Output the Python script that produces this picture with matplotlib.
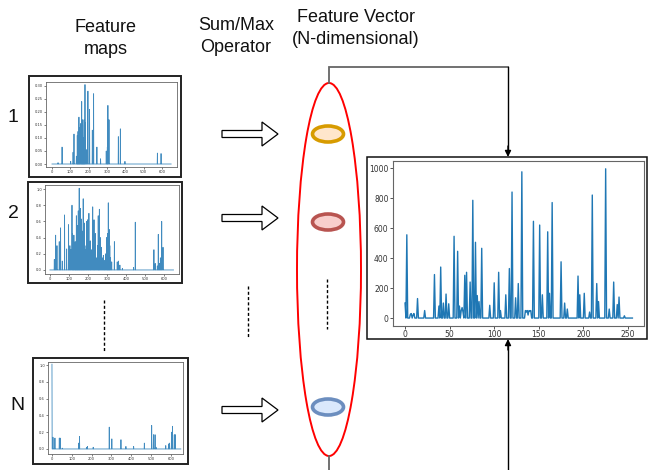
import numpy as np
import matplotlib
matplotlib.use("Agg")
import matplotlib.pyplot as plt
from matplotlib.patches import Rectangle, Ellipse, Polygon

W, H = 649, 470

# ---------------- data ----------------
# Feature map 1 (spike positions / heights), length 651
m1_idx = [33, 55, 102, 115, 120, 133, 138, 140, 142, 145, 147, 150, 152, 156, 158, 160, 162, 165, 167, 169,
          171, 173, 175, 178, 180, 182, 187, 196, 205, 220, 227, 245, 265, 296, 302, 305, 311, 362, 373, 398,
          575, 595]
m1_val = [0.005, 0.065, 0.01, 0.045, 0.115, 0.03, 0.11, 0.06, 0.125, 0.10, 0.18, 0.08, 0.14, 0.155, 0.12,
          0.10, 0.24, 0.17, 0.15, 0.06, 0.09, 0.10, 0.17, 0.14, 0.305, 0.16, 0.055, 0.28, 0.21, 0.13, 0.27,
          0.065, 0.02, 0.05, 0.065, 0.225, 0.17, 0.105, 0.135, 0.01, 0.042, 0.04]

# Feature map 2
m2_idx = [23, 30, 37, 49, 56, 65, 77, 88, 98, 105, 116, 119, 126, 133, 139, 144, 149, 154, 160, 165,
          170, 175, 181, 186, 193, 198, 205, 212, 225, 232, 239, 246, 254, 260, 265, 270, 281, 289, 298, 304,
          307, 312, 319, 339, 354, 361, 368, 381, 440, 449, 547, 554, 565, 570, 577, 581, 588, 595,
          110, 122, 129, 136, 142, 147, 152, 157, 163, 168, 173, 178, 184, 190, 201, 208, 215, 220, 228, 236,
          250, 257, 263, 275, 285, 294, 301, 310, 315, 325]
m2_val = [0.13, 0.43, 0.30, 0.35, 0.52, 0.11, 0.68, 0.26, 0.56, 0.30, 0.80, 0.45, 0.43, 0.35, 0.67, 0.55,
          0.73, 1.01, 0.76, 0.63, 0.48, 0.88, 0.58, 0.20, 0.60, 0.62, 0.70, 0.36, 0.78, 0.62, 0.45, 0.15,
          0.67, 0.75, 0.40, 0.28, 0.18, 0.12, 0.40, 0.45, 0.83, 0.50, 0.15, 0.35, 0.10, 0.11, 0.06, 0.02,
          0.03, 0.59, 0.25, 0.08, 0.05, 0.44, 0.08, 0.15, 0.60, 0.28,
          0.25, 0.30, 0.20, 0.28, 0.40, 0.30, 0.38, 0.50, 0.35, 0.30, 0.40, 0.30, 0.25, 0.30, 0.35, 0.30,
          0.20, 0.25, 0.30, 0.20, 0.30, 0.35, 0.20, 0.15, 0.10, 0.20, 0.30, 0.25, 0.30, 0.10]

# Feature map N
m3_idx = [0, 5, 15, 37, 41, 52, 135, 139, 174, 179, 208, 289, 302, 348, 373, 412, 466, 503, 512, 520,
          525, 574, 588, 593, 603, 608, 617, 622]
m3_val = [1.01, 0.14, 0.13, 0.13, 0.13, 0.01, 0.07, 0.15, 0.02, 0.03, 0.02, 0.26, 0.12, 0.11, 0.03, 0.03,
          0.07, 0.28, 0.17, 0.17, 0.02, 0.04, 0.06, 0.07, 0.20, 0.27, 0.17, 0.17]

# Feature vector (256 dims)
fv_idx = [0, 2, 6, 7, 9, 10, 14, 22, 33, 38, 40, 43, 46, 49, 55, 59, 61, 63, 64, 65, 67, 69, 73, 76, 79,
          81, 83, 86, 95, 100, 105, 107, 113, 117, 120, 124, 127, 131, 135, 136, 137, 138, 139, 140, 141,
          144, 151, 154, 160, 162, 165, 175, 179, 182, 194, 196, 201, 207, 210, 215, 217, 225, 229, 234,
          238, 240, 246]
fv_val = [100, 555, 25, 30, 20, 30, 130, 50, 290, 80, 340, 100, 160, 95, 545, 445, 80, 50, 70, 40, 285,
          305, 240, 785, 505, 150, 110, 465, 85, 235, 305, 50, 155, 330, 840, 135, 230, 975, 50, 40, 50,
          20, 50, 45, 50, 645, 620, 155, 575, 165, 770, 375, 100, 60, 280, 155, 165, 40, 820, 230, 110,
          995, 60, 240, 90, 140, 15]

map_len = 651
fv_len = 256

m1_ticks_y = [0.00, 0.05, 0.10, 0.15, 0.20, 0.25, 0.30]
m_ticks_y = [0.0, 0.2, 0.4, 0.6, 0.8, 1.0]
m_ticks_x = [0, 100, 200, 300, 400, 500, 600]
fv_ticks_x = [0, 50, 100, 150, 200, 250]
fv_ticks_y = [0, 200, 400, 600, 800, 1000]


def series(n, idx, val):
    s = np.zeros(n)
    s[np.array(idx)] = np.array(val)
    return s


m1 = series(map_len, m1_idx, m1_val)
m2 = series(map_len, m2_idx, m2_val)
m3 = series(map_len, m3_idx, m3_val)
fv = series(fv_len, fv_idx, fv_val)

# ---------------- figure ----------------
fig = plt.figure(figsize=(W / 100, H / 100), dpi=100)
bg = fig.add_axes([0, 0, 1, 1], zorder=0)
bg.set_xlim(0, W)
bg.set_ylim(H, 0)
bg.axis("off")


def pos(x0, y0, x1, y1):
    return [x0 / W, 1 - y1 / H, (x1 - x0) / W, (y1 - y0) / H]


TXT = dict(family=["Liberation Sans", "DejaVu Sans"], color="#111111", ha="center", va="center")

bg.text(106, 38.5, "Feature\nmaps", fontsize=13, linespacing=1.38, **TXT)
bg.text(236, 36.5, "Sum/Max\nOperator", fontsize=13, linespacing=1.38, **TXT)
bg.text(356, 28.5, "Feature Vector\n(N-dimensional)", fontsize=13, linespacing=1.38, **TXT)
bg.text(13, 117, "1", fontsize=14, **TXT)
bg.text(13, 213, "2", fontsize=14, **TXT)
bg.text(17, 405, "N", fontsize=14, **TXT)

# frames around charts
for (x0, y0, x1, y1) in [(29, 76, 181, 177), (28, 182, 182, 283), (33, 358, 188, 464)]:
    bg.add_patch(Rectangle((x0, y0), x1 - x0, y1 - y0, fill=False, ec="#222222", lw=1.4))
bg.add_patch(Rectangle((367, 157), 647 - 367, 339 - 157, fill=False, ec="#111111", lw=1.1))

# dashed separators
for (x, y0, y1) in [(104, 300, 351), (248, 286, 337), (327, 279, 329)]:
    bg.plot([x, x], [y0, y1], color="black", lw=1.0, ls=(0, (2.2, 1.6)))

# hollow arrows
def hollow_arrow(x0, x1, yc, sh=3.5, hh=12, hl=16):
    verts = [(x0, yc - sh), (x1 - hl, yc - sh), (x1 - hl, yc - hh), (x1, yc),
             (x1 - hl, yc + hh), (x1 - hl, yc + sh), (x0, yc + sh)]
    bg.add_patch(Polygon(verts, closed=True, fc="white", ec="black", lw=0.9))


for yc in [134, 218, 410]:
    hollow_arrow(222, 278, yc)

# red ellipse
bg.add_patch(Ellipse((329, 269.5), 64, 373, fill=False, ec="#ff0000", lw=1.4))
# small ellipses
for (yc, ec, fc) in [(134, "#d79b00", "#ffe6cc"), (222, "#b85450", "#f8cecc"), (407, "#6c8ebf", "#dae8fc")]:
    bg.add_patch(Ellipse((328, yc), 31, 16, fc=fc, ec=ec, lw=2.6))

# connectors
bg.plot([329, 329, 508], [83, 67, 67], color="#666666", lw=1.3, solid_joinstyle="miter")
bg.plot([329, 329], [456, 472], color="#666666", lw=1.3)
bg.plot([508, 508], [67, 150], color="black", lw=1.0)
bg.annotate("", xy=(508, 157), xytext=(508, 146),
            arrowprops=dict(arrowstyle="-|>", color="black", lw=1.0, mutation_scale=9,
                            shrinkA=0, shrinkB=0))
bg.plot([508, 508], [472, 346], color="black", lw=1.0)
bg.annotate("", xy=(508, 339), xytext=(508, 350),
            arrowprops=dict(arrowstyle="-|>", color="black", lw=1.0, mutation_scale=9,
                            shrinkA=0, shrinkB=0))

BLUE = "#1f77b4"


def style(ax, size, tl, sw):
    for s in ax.spines.values():
        s.set_color("#666666")
        s.set_linewidth(sw)
    ax.tick_params(labelsize=size, length=tl, width=sw * 0.8, pad=1,
                   colors="#444444", labelcolor="#333333")


# small charts
small = [
    (pos(46, 82, 177, 167), m1, (-32.7, 682), (-0.0115, 0.315), m1_ticks_y, "%.2f"),
    (pos(45, 185, 179, 274), m2, (-26, 679), (-0.05, 1.05), m_ticks_y, "%.1f"),
    (pos(48, 362, 183, 454), m3, (-20, 661), (-0.06, 1.036), m_ticks_y, "%.1f"),
]
for rect, data, xl, yl, yt, fmt in small:
    ax = fig.add_axes(rect, zorder=2)
    ax.plot(np.arange(len(data)), data, color=BLUE, lw=0.6, alpha=0.85)
    ax.set_xlim(*xl)
    ax.set_ylim(*yl)
    ax.set_xticks(m_ticks_x)
    ax.set_yticks(yt)
    ax.set_yticklabels([fmt % v for v in yt])
    style(ax, 2.6, 1.2, 0.6)

# feature vector chart
axf = fig.add_axes(pos(393, 161, 644, 326), zorder=2)
axf.plot(np.arange(fv_len), fv, color=BLUE, lw=1.0)
axf.set_xlim(-13.5, 268)
axf.set_ylim(-53, 1047)
axf.set_xticks(fv_ticks_x)
axf.set_yticks(fv_ticks_y)
style(axf, 5.5, 2.2, 0.8)

fig.savefig("out.png", dpi=100)
